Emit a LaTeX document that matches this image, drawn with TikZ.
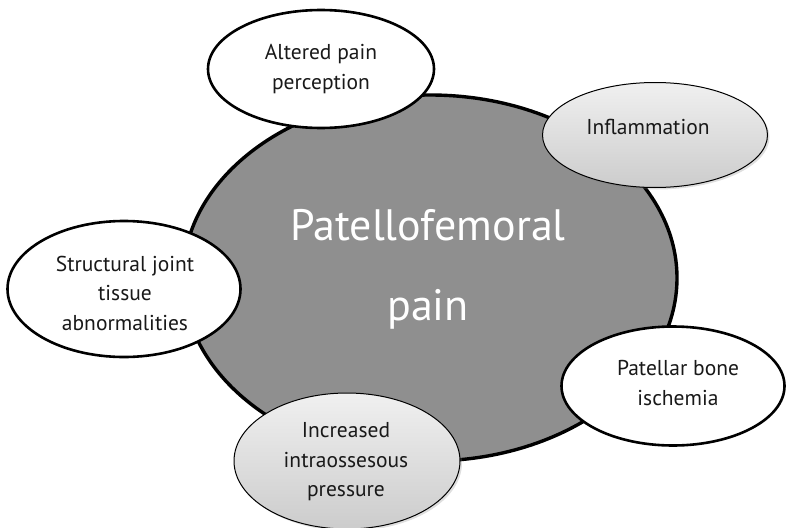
\documentclass[tikz,border=0pt]{standalone}
\usepackage{fontspec}
\setmainfont{PT Sans}
\usetikzlibrary{shapes.geometric,shadows}
\definecolor{maingray}{RGB}{143,143,143}
\definecolor{shtop}{RGB}{240,240,240}
\definecolor{shbot}{RGB}{204,204,204}
\tikzset{
  whiteell/.style={ellipse, draw=black, line width=2.6pt, fill=white, inner sep=0pt},
  shadeell/.style={ellipse, draw=black, line width=1pt, top color=shtop, bottom color=shbot, inner sep=0pt,
     drop shadow={opacity=0.25, shadow xshift=2pt, shadow yshift=-2pt}},
  lbl/.style={align=center, font=\fontsize{21.5}{29.5}\selectfont, text=black!90, inner sep=0pt},
  mainlbl/.style={align=center, font=\fontsize{44}{80}\selectfont, text=white, inner sep=0pt}
}
\begin{document}
\begin{tikzpicture}[x=1pt,y=-1pt]
\useasboundingbox (0,0) rectangle (786,527);
\node[ellipse, draw=black, line width=3.4pt, fill=maingray, minimum width=494pt, minimum height=366pt, inner sep=0pt] (main) at (430,278) {};
\node[mainlbl] (mainT) at (428,269) {Patellofemoral\\pain};
\node[whiteell, minimum width=226pt, minimum height=118pt] (alt) at (321,69) {};
\node[lbl] (altT) at (321,69) {Altered pain\\perception};
\node[shadeell, minimum width=225pt, minimum height=105pt] (infl) at (655,135) {};
\node[lbl] (inflT) at (648,127) {Inflammation};
\node[whiteell, minimum width=233pt, minimum height=136pt] (str) at (124,289) {};
\node[lbl] (strT) at (125,293) {Structural joint\\tissue\\abnormalities};
\node[whiteell, minimum width=223pt, minimum height=119pt] (pat) at (673,386) {};
\node[lbl] (patT) at (678,383) {Patellar bone\\ischemia};
\node[shadeell, minimum width=226pt, minimum height=136pt] (inc) at (347,461) {};
\node[lbl] (incT) at (346,462) {Increased\\intraossesous\\pressure};
\end{tikzpicture}
\end{document}
